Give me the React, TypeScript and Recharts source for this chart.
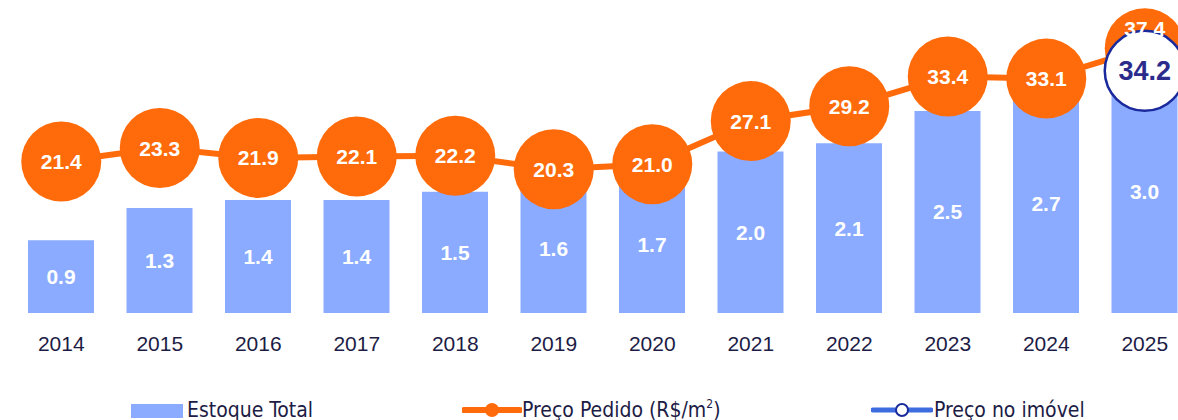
import React from 'react';
import { ComposedChart, Bar, Line, XAxis, YAxis, LabelList } from 'recharts';

const years = ['2014', '2015', '2016', '2017', '2018', '2019', '2020', '2021', '2022', '2023', '2024', '2025'];
const estoqueTotal = [0.9, 1.3, 1.4, 1.4, 1.5, 1.6, 1.7, 2.0, 2.1, 2.5, 2.7, 3.0];
const precoPedido = [21.4, 23.3, 21.9, 22.1, 22.2, 20.3, 21.0, 27.1, 29.2, 33.4, 33.1, 37.4];
const precoImovel = [null, null, null, null, null, null, null, null, null, null, null, 34.2];

const BAR_COLOR = '#8aabff';
const ORANGE = '#ff6b0a';
const NAVY = '#1c1c45';
const BLUE_STROKE = '#1a2a9c';
const BLUE_LINE = '#3d6be0';

const data = years.map((year, i) => ({
  year,
  estoque: estoqueTotal[i],
  pedido: precoPedido[i],
  imovel: precoImovel[i],
}));

// o rótulo do último ponto sobe um pouco para não ficar atrás do círculo branco
const renderPedidoLabel = (props: any) => {
  const { x, y, value, index } = props;
  const dy = index === years.length - 1 ? -20 : 0;
  return (
    <text
      x={x}
      y={y + dy}
      textAnchor="middle"
      dominantBaseline="central"
      fill="#ffffff"
      fontSize={21}
      fontWeight="bold"
      fontFamily="'Liberation Sans', Arial, sans-serif"
    >
      {Number(value).toFixed(1)}
    </text>
  );
};

const renderImovelLabel = (props: any) => {
  const { x, y, value } = props;
  if (value == null) return null;
  return (
    <text
      x={x}
      y={y}
      textAnchor="middle"
      dominantBaseline="central"
      fill="#2b2b8c"
      fontSize={27}
      fontWeight="bold"
      fontFamily="'Liberation Sans', Arial, sans-serif"
    >
      {Number(value).toFixed(1)}
    </text>
  );
};

const legendText: React.CSSProperties = {
  fontFamily: "'DejaVu Sans Condensed', 'DejaVu Sans', sans-serif",
  fontSize: 21,
  color: NAVY,
  position: 'absolute',
  top: 398,
  whiteSpace: 'nowrap',
  lineHeight: '24px',
};

function ChartLegend() {
  return (
    <>
      <div style={{ position: 'absolute', left: 131, top: 404, width: 52, height: 14, background: BAR_COLOR }} />
      <div style={{ ...legendText, left: 187 }}>Estoque Total</div>

      <svg style={{ position: 'absolute', left: 462, top: 401 }} width={60} height={18}>
        <line x1={2} y1={9} x2={58} y2={9} stroke={ORANGE} strokeWidth={6} strokeLinecap="round" />
        <circle cx={30} cy={9} r={7} fill={ORANGE} />
      </svg>
      <div style={{ ...legendText, left: 522 }}>
        Preço Pedido (R$/m<sup style={{ fontSize: 12, verticalAlign: 'top', lineHeight: '12px' }}>2</sup>)
      </div>

      <svg style={{ position: 'absolute', left: 871, top: 401 }} width={62} height={18}>
        <line x1={2} y1={9} x2={60} y2={9} stroke={BLUE_LINE} strokeWidth={5} strokeLinecap="round" />
        <circle cx={31} cy={9} r={6} fill="#ffffff" stroke={BLUE_STROKE} strokeWidth={2} />
      </svg>
      <div style={{ ...legendText, left: 934 }}>Preço no imóvel</div>
    </>
  );
}

export default function App() {
  return (
    <div
      style={{
        position: 'absolute',
        left: 0,
        top: 0,
        width: 1178,
        height: 420,
        overflow: 'hidden',
        background: '#ffffff',
      }}
    >
      <ComposedChart width={1194} height={363} data={data} margin={{ top: 0, right: 0, left: 12, bottom: 0 }}>
        <XAxis
          dataKey="year"
          axisLine={false}
          tickLine={false}
          height={50}
          tickMargin={17}
          tick={{ fill: NAVY, fontSize: 21, fontFamily: "'Liberation Sans', Arial, sans-serif" }}
          interval={0}
        />
        <YAxis yAxisId="bar" hide domain={[0, 3.875]} />
        <YAxis yAxisId="line" hide domain={[0, 44.2]} />
        <Bar yAxisId="bar" dataKey="estoque" fill={BAR_COLOR} barSize={66} isAnimationActive={false}>
          <LabelList
            dataKey="estoque"
            position="center"
            fill="#ffffff"
            fontSize={21}
            fontWeight="bold"
            fontFamily="'Liberation Sans', Arial, sans-serif"
            formatter={(v: any) => Number(v).toFixed(1)}
          />
        </Bar>
        <Line
          yAxisId="line"
          dataKey="pedido"
          stroke={ORANGE}
          strokeWidth={6}
          dot={{ r: 40, fill: ORANGE, stroke: 'none' }}
          activeDot={false}
          isAnimationActive={false}
        >
          <LabelList dataKey="pedido" content={renderPedidoLabel} />
        </Line>
        <Line
          yAxisId="line"
          dataKey="imovel"
          stroke="transparent"
          strokeWidth={0}
          dot={{ r: 40, fill: '#ffffff', stroke: BLUE_STROKE, strokeWidth: 2.5 }}
          activeDot={false}
          isAnimationActive={false}
        >
          <LabelList dataKey="imovel" content={renderImovelLabel} />
        </Line>
      </ComposedChart>
      <ChartLegend />
    </div>
  );
}
